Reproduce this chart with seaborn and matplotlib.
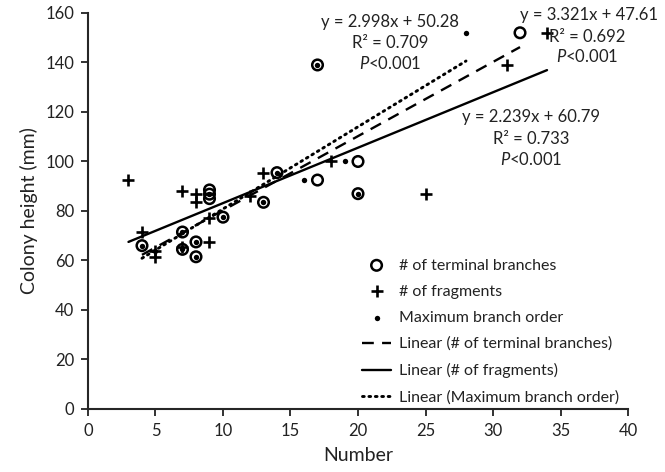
import numpy as np
import pandas as pd
import seaborn as sns
import matplotlib.pyplot as plt

# colony height (mm) against three branching measures
tb_x = [4, 7, 7, 8, 8, 9, 9, 9, 10, 13, 14, 17, 17, 20, 20, 32]
tb_y = [66, 71.5, 64.5, 67.5, 61.5, 85, 86.8, 88.5, 77.5, 83.5, 95.5, 139, 92.5, 100, 87, 152]

fr_x = [3, 4, 5, 5, 7, 7, 8, 8, 9, 9, 12, 13, 18, 25, 31, 34]
fr_y = [92.5, 71.5, 64, 61.5, 88, 65.5, 87, 83.5, 67.5, 77, 86, 95.5, 100, 87, 139, 152]

mbo_x = [4, 5, 7, 7, 8, 8, 9, 10, 13, 14, 16, 17, 19, 20, 28]
mbo_y = [66, 64, 71.5, 64.5, 67.5, 61.5, 86.8, 77.5, 83.5, 95.5, 92.5, 139, 100, 87, 152]

# linear trendlines (slope, intercept) as drawn
tb_fit = (2.998, 50.28)
fr_fit = (2.239, 60.79)
mbo_fit = (3.321, 47.61)

sns.set_style('ticks')
plt.rcParams['font.family'] = ['Lato', 'DejaVu Sans']
plt.rcParams['mathtext.fontset'] = 'custom'
plt.rcParams['mathtext.rm'] = 'Lato'
plt.rcParams['mathtext.it'] = 'Lato:italic'

fig = plt.figure(figsize=(6.65, 4.72), dpi=100)
ax = fig.add_axes([0.1323, 0.1335, 0.8121, 0.839])

sns.scatterplot(x=tb_x, y=tb_y, ax=ax, marker='o', s=58, facecolor='none',
                edgecolor='black', linewidth=1.8, label='# of terminal branches')
sns.scatterplot(x=fr_x, y=fr_y, ax=ax, marker='+', s=75, color='black',
                linewidth=1.9, label='# of fragments')
sns.scatterplot(x=mbo_x, y=mbo_y, ax=ax, marker='o', s=15, color='black',
                edgecolor='black', linewidth=0, label='Maximum branch order')


def trend(xs, fit):
    xr = np.array([min(xs), max(xs)])
    return pd.DataFrame({'x': xr, 'y': fit[0] * xr + fit[1]})


d = trend(tb_x, tb_fit)
sns.lineplot(data=d, x='x', y='y', ax=ax, color='black', lw=1.7,
             linestyle=(0, (5, 3.5)), label='Linear (# of terminal branches)')
d = trend(fr_x, fr_fit)
sns.lineplot(data=d, x='x', y='y', ax=ax, color='black', lw=1.7,
             label='Linear (# of fragments)')
d = trend(mbo_x, mbo_fit)
sns.lineplot(data=d, x='x', y='y', ax=ax, color='black', lw=2.1,
             linestyle=(0, (0.6, 1.6)), dash_capstyle='round',
             label='Linear (Maximum branch order)')

ax.set_xlim(0, 40)
ax.set_ylim(0, 160)
ax.set_xticks(range(0, 41, 5))
ax.set_yticks(range(0, 161, 20))
ax.set_xlabel('Number', fontsize=14, color='#222222', labelpad=6)
ax.set_ylabel('Colony height (mm)', fontsize=14, color='#222222', labelpad=5)
ax.tick_params(labelsize=12, length=5, width=1.3, direction='out', colors='#222222', pad=5)
for s in ['left', 'bottom']:
    ax.spines[s].set_linewidth(1.5)
sns.despine(ax=ax)

tk = dict(ha='center', va='center', fontsize=12, color='#222222')
ax.text(22.4, 156.5, 'y = 2.998x + 50.28', **tk)
ax.text(22.4, 147.8, 'R² = 0.709', **tk)
ax.text(22.4, 139.7, '$P$<0.001', **tk)
ax.text(37.1, 159.2, 'y = 3.321x + 47.61', **tk)
ax.text(37.0, 150.4, 'R² = 0.692', **tk)
ax.text(37.0, 142.3, '$P$<0.001', **tk)
ax.text(32.8, 118.1, 'y = 2.239x + 60.79', **tk)
ax.text(32.8, 108.9, 'R² = 0.733', **tk)
ax.text(32.8, 100.8, '$P$<0.001', **tk)

order = ['# of terminal branches', '# of fragments', 'Maximum branch order',
         'Linear (# of terminal branches)', 'Linear (# of fragments)',
         'Linear (Maximum branch order)']
h, l = ax.get_legend_handles_labels()
hm = dict(zip(l, h))
ax.legend([hm[k] for k in order], order, loc='lower right',
          bbox_to_anchor=(1.01, -0.025), frameon=False, fontsize=11.5,
          handlelength=1.8, handletextpad=0.5, labelspacing=0.75,
          labelcolor='#222222')

plt.savefig('out.png', dpi=100)
